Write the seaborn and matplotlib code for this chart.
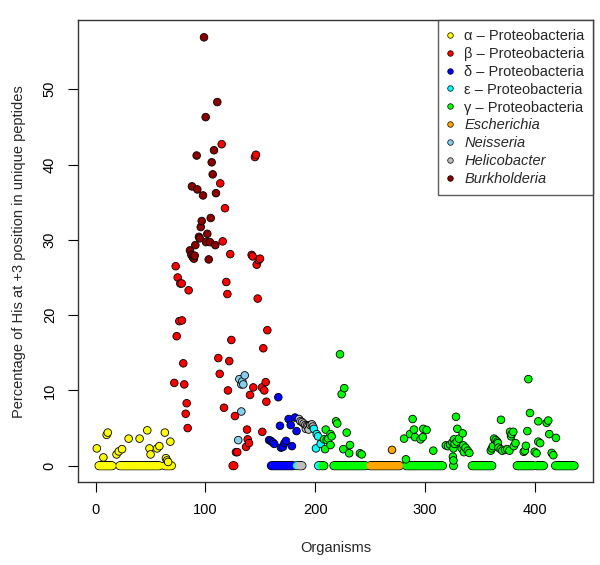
import numpy as np
import pandas as pd
import matplotlib
matplotlib.use("Agg")
import matplotlib.pyplot as plt
import seaborn as sns
from matplotlib.lines import Line2D

# nonzero points per group (organism index, % His at +3)
alpha_x = [1, 7, 10, 11, 19, 21, 24, 30, 40, 47, 49, 50, 56, 58, 63, 68, 64, 65, 66]
alpha_y = [2.3, 1.1, 4.1, 4.4, 1.5, 1.9, 2.2, 3.6, 3.6, 4.7, 2.3, 1.5, 2.3, 2.6, 4.4, 3.2, 1.0, 0.7, 0.5]
alpha_zero = [(3, 15), (22, 58), (63, 69)]

beta_x = [145.1, 146.0, 114.8, 113.5, 117.8, 115.7, 122.6, 142.1, 143.0, 149.7, 148.5, 146.7, 72.9,
          74.7, 77.1, 78.4, 84.7, 119.0, 120.0, 147.6, 76.2, 78.6, 73.8, 156.4, 123.6, 152.7, 79.8,
          111.7, 121.7, 113.0, 71.6, 80.7, 154.9, 120.5, 143.6, 151.5, 153.6, 140.6, 155.5, 82.9,
          82.0, 116.9, 126.9, 83.8, 137.9, 151.8, 138.5, 139.7, 137.0, 127.8, 129.0, 125.0, 126.0]
beta_y = [41.0, 41.3, 42.7, 37.5, 34.2, 29.8, 28.1, 28.0, 27.8, 27.5, 27.3, 26.7, 26.5,
          25.0, 24.2, 24.2, 23.3, 24.4, 22.8, 22.2, 19.2, 19.3, 17.2, 18.0, 16.7, 15.6, 13.6,
          14.3, 13.9, 12.2, 11.0, 10.8, 11.1, 10.0, 10.4, 10.4, 10.0, 9.4, 8.5, 8.3,
          6.9, 7.7, 6.6, 5.0, 4.8, 4.5, 3.5, 3.0, 2.5, 1.8, 1.8, 0.0, 0.0]

burk_x = [98.7, 110.8, 100.2, 107.8, 92.0, 105.7, 106.6, 87.7, 92.6, 109.6, 97.8, 104.8, 96.6, 95.7,
          101.7, 94.1, 94.8, 100.5, 104.1, 109.0, 90.8, 85.9, 87.2, 88.5, 89.5, 90.2, 103.0]
burk_y = [56.9, 48.3, 46.3, 41.9, 41.2, 40.3, 38.7, 37.1, 36.7, 36.2, 35.9, 32.9, 32.5, 31.7,
          30.8, 30.4, 30.2, 29.7, 29.7, 29.3, 29.3, 28.6, 28.0, 27.7, 27.5, 27.9, 27.4]

neis_x = [135.8, 130.9, 133.6, 132.7, 134.5, 132.7, 129.9]
neis_y = [12.0, 11.5, 11.2, 10.8, 10.8, 7.2, 3.4]

delta_x = [166.4, 175.8, 181.6, 177.7, 167.9, 183.0, 158.0, 159.6, 161.2, 162.7, 168.8, 170.7, 172.0, 173.4, 178.8]
delta_y = [9.1, 6.2, 6.4, 5.4, 5.3, 4.6, 3.4, 3.3, 3.1, 2.9, 2.4, 2.5, 3.0, 3.3, 2.6]
delta_zero = [(160, 180)]

eps_x = [198.8, 201.4, 202.6, 205.0, 200.7]
eps_y = [4.9, 4.2, 3.9, 2.9, 2.3]
eps_zero = [(183, 183), (203, 204)]

heli_x = [185.3, 186.5, 188.0, 189.5, 191.0, 192.5, 194.0, 195.5, 197.0, 198.0, 191.5, 194.0]
heli_y = [6.2, 5.9, 5.8, 5.6, 5.4, 5.3, 5.3, 5.4, 5.5, 5.2, 4.9, 4.8]
heli_zero = [(185, 188)]

gamma_x = [222.6, 226.5, 224.1, 219.0, 220.1, 209.6, 214.0, 215.0, 208.0, 210.5, 212.0, 214.0, 209.0,
           228.7, 231.7, 225.6, 231.0, 240.8, 242.4,
           288.8, 290.0, 286.4, 298.5, 301.5, 290.9, 296.0, 298.0, 281.0, 282.7, 307.6,
           328.3, 329.5, 334.4, 331.0, 329.0, 327.0, 325.0, 323.0, 321.0, 319.0, 326.5, 333.5,
           335.0, 337.0, 339.0, 340.5, 335.5, 326.0, 325.5, 326.0,
           369.3, 377.5, 379.0, 380.5, 378.5, 363.0, 364.5, 366.0, 362.0, 361.0, 360.0, 367.0,
           369.0, 370.5, 373.0, 375.0, 377.0, 381.0, 382.5, 366.5,
           394.2, 395.7, 403.3, 410.9, 412.4, 393.3, 413.3, 419.4, 403.3, 405.0, 392.0, 390.0,
           391.0, 400.0, 401.7, 415.5, 417.0]
gamma_y = [14.8, 10.3, 9.5, 5.9, 5.6, 4.8, 4.2, 3.9, 3.5, 3.4, 3.6, 2.75, 2.2,
           4.4, 2.75, 2.2, 1.65, 1.65, 1.5,
           6.2, 4.8, 4.2, 4.9, 4.75, 3.8, 3.5, 3.8, 3.6, 0.85, 2.0,
           6.5, 4.9, 4.3, 3.6, 3.2, 2.9, 3.1, 2.8, 2.6, 2.7, 3.5, 2.3,
           2.7, 2.4, 2.0, 1.7, 1.8, 2.3, 1.2, 0.7,
           6.1, 4.5, 4.2, 4.5, 3.9, 3.6, 3.4, 3.2, 2.6, 2.3, 2.0, 2.4,
           2.2, 2.0, 2.1, 2.2, 2.0, 2.6, 3.0, 3.0,
           11.5, 7.0, 5.9, 5.7, 6.0, 4.6, 4.2, 3.7, 3.2, 3.0, 2.65, 1.85,
           2.0, 1.85, 1.65, 1.7, 1.4]
gamma_zero = [(206, 208), (217, 246), (283, 316), (326, 326), (343, 361), (384, 399), (402, 408), (419, 436)]

esch_x = [270.0]
esch_y = [2.1]
esch_zero = [(250, 277)]

labels = ["α – Proteobacteria", "β – Proteobacteria", "δ – Proteobacteria", "ε – Proteobacteria",
          "γ – Proteobacteria", "Escherichia", "Neisseria", "Helicobacter", "Burkholderia"]
colors = ["#FFFF00", "#FF0000", "#0000FF", "#00FFFF", "#00FF00", "#FFA500", "#87CEEB", "#BEBEBE", "#8B0000"]
italic = [False, False, False, False, False, True, True, True, True]

groups = {
    labels[0]: (alpha_x, alpha_y, alpha_zero),
    labels[1]: (beta_x, beta_y, []),
    labels[8]: (burk_x, burk_y, []),
    labels[6]: (neis_x, neis_y, []),
    labels[2]: (delta_x, delta_y, delta_zero),
    labels[3]: (eps_x, eps_y, eps_zero),
    labels[7]: (heli_x, heli_y, heli_zero),
    labels[4]: (gamma_x, gamma_y, gamma_zero),
    labels[5]: (esch_x, esch_y, esch_zero),
}

rows = []
for name, (xs, ys, zeros) in groups.items():
    for x, y in zip(xs, ys):
        rows.append((x, y, name))
    for a, b in zeros:
        for x in range(a, b + 1):
            rows.append((x, 0.0, name))
df = pd.DataFrame(rows, columns=["organism", "pct", "group"])
df = df.sort_values("organism", kind="stable").reset_index(drop=True)
zero = df[df["pct"] == 0]
nonzero = df[df["pct"] != 0]

sns.set_style("white")
plt.rcParams["font.family"] = ["Liberation Sans", "DejaVu Sans"]

fig = plt.figure(figsize=(6, 5.65), dpi=100)
ax = fig.add_axes([0.1295, 0.1464, 0.8593, 0.8182])

palette = dict(zip(labels, colors))
# zero band: outline pass then fill pass so it reads as one bar
sns.scatterplot(data=zero, x="organism", y="pct", hue="group", palette=palette,
                edgecolor="black", linewidth=1.1, s=28, legend=False, ax=ax, zorder=3)
sns.scatterplot(data=zero, x="organism", y="pct", hue="group", palette=palette,
                linewidth=0, s=28, legend=False, ax=ax, zorder=4)
sns.scatterplot(data=nonzero, x="organism", y="pct", hue="group", palette=palette,
                edgecolor="black", linewidth=0.6, s=30, legend=False, ax=ax, zorder=5)

ax.set_xlim(-16.4, 453.4)
ax.set_ylim(-2.2, 59.2)
ax.set_xticks([0, 100, 200, 300, 400])
ax.set_yticks([0, 10, 20, 30, 40, 50])
ax.tick_params(direction="out", length=7, width=0.8, labelsize=10.5, pad=8, colors="black",
               bottom=True, left=True)
for lab in ax.get_yticklabels():
    lab.set_rotation(90)
    lab.set_va("center")
for sp in ax.spines.values():
    sp.set_color("#333333")
    sp.set_linewidth(1.0)

ax.set_xlabel("Organisms", fontsize=10.5, labelpad=17)
ax.set_ylabel("Percentage of His at +3 position in unique peptides", fontsize=10.5, labelpad=12)

handles = [Line2D([], [], linestyle="none", marker="o", markersize=4, markerfacecolor=c,
                  markeredgecolor="black", markeredgewidth=0.5) for c in colors]
leg = ax.legend(handles, labels, loc="upper right", bbox_to_anchor=(1, 1), borderaxespad=0,
                fontsize=10.5, frameon=True, fancybox=False, labelspacing=0.27,
                handlelength=0.4, handletextpad=0.8, borderpad=0.6)
leg.get_frame().set_edgecolor("#333333")
leg.get_frame().set_linewidth(1.0)
for t, it in zip(leg.get_texts(), italic):
    if it:
        t.set_fontstyle("italic")

fig.savefig("out.png", dpi=100)
